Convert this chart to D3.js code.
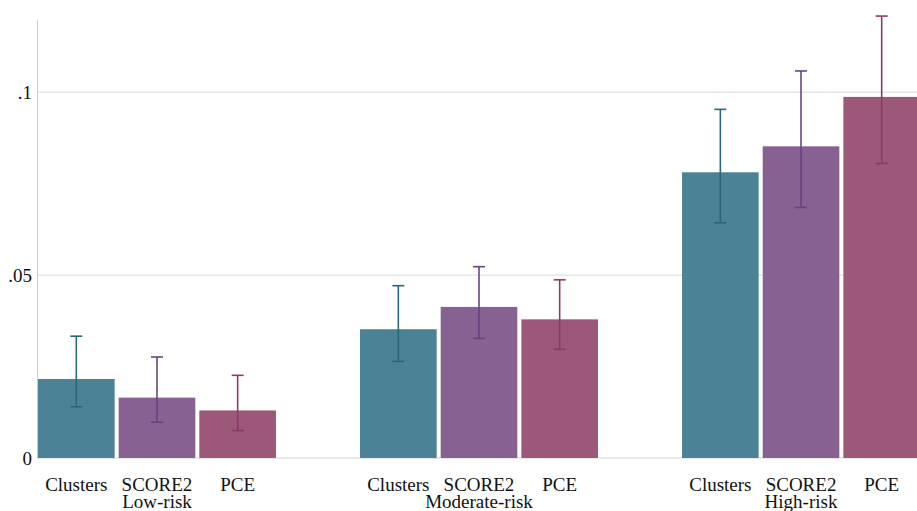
<!DOCTYPE html>
<html>
<head>
<meta charset="utf-8">
<script src="https://cdn.jsdelivr.net/npm/d3@7"></script>
<style>
  html, body { margin: 0; padding: 0; background: #ffffff; }
  svg { display: block; }
  .lbl { font-family: 'Liberation Serif', 'Times New Roman', serif; fill: #111; }
</style>
</head>
<body>
<svg id="chart" width="917" height="511"></svg>
<script>
// Risk groups and the three scores compared inside each group
const groups = ["Low-risk", "Moderate-risk", "High-risk"];
const scores = ["Clusters", "SCORE2", "PCE"];

// Mean value per score, one array per risk group
const lowRisk      = [0.0216, 0.0165, 0.0130];
const moderateRisk = [0.0352, 0.0413, 0.0379];
const highRisk     = [0.0781, 0.0852, 0.0987];

// 95% interval bounds per score, one array per risk group
const lowRiskLower      = [0.0140, 0.0098, 0.0075];
const lowRiskUpper      = [0.0333, 0.0276, 0.0226];
const moderateRiskLower = [0.0264, 0.0327, 0.0297];
const moderateRiskUpper = [0.0471, 0.0523, 0.0487];
const highRiskLower     = [0.0643, 0.0685, 0.0805];
const highRiskUpper     = [0.0953, 0.1058, 0.1208];

// Y axis ticks and their labels
const yTicks = [0, 0.05, 0.1];
const yTickLabels = ["0", ".05", ".1"];

const values = [lowRisk, moderateRisk, highRisk];
const lowers = [lowRiskLower, moderateRiskLower, highRiskLower];
const uppers = [lowRiskUpper, moderateRiskUpper, highRiskUpper];

const rows = [];
groups.forEach((g, gi) => {
  scores.forEach((s, si) => {
    rows.push({ group: g, score: s, value: values[gi][si], lo: lowers[gi][si], hi: uppers[gi][si] });
  });
});

const fillColor = d3.scaleOrdinal().domain(scores).range(["#4b8296", "#866191", "#9c5878"]);
const barColor  = d3.scaleOrdinal().domain(scores).range(["#2c6779", "#664481", "#8a3a6b"]);

const svg = d3.select("#chart");
const left = 37, baseline = 458;

const y = d3.scaleLinear().domain([0, 0.12]).range([baseline, 19]);

const x0 = d3.scaleBand().domain(groups).range([38, 920]).paddingInner(0.261).paddingOuter(0);
const x1 = d3.scaleBand().domain(scores).range([0, x0.bandwidth()]).paddingInner(0.05).paddingOuter(0);

// Horizontal grid lines
svg.append("g")
  .selectAll("line")
  .data(yTicks.filter(t => t > 0))
  .join("line")
  .attr("x1", left).attr("x2", 917)
  .attr("y1", d => y(d)).attr("y2", d => y(d))
  .attr("stroke", "#dadada").attr("stroke-width", 1);

// Baseline
svg.append("line")
  .attr("x1", left).attr("x2", 917)
  .attr("y1", y(0)).attr("y2", y(0))
  .attr("stroke", "#d4d4d4").attr("stroke-width", 1);

// Y axis
const yAxis = d3.axisLeft(y)
  .tickValues(yTicks)
  .tickFormat((d, i) => yTickLabels[i])
  .tickSize(0)
  .tickPadding(5);

const yg = svg.append("g").attr("transform", `translate(${left},0)`).call(yAxis);
yg.select(".domain").attr("stroke", "#cccccc").attr("stroke-width", 1);
yg.selectAll("text")
  .attr("class", "lbl")
  .attr("font-size", 19);

// Bars
const gGroups = svg.append("g")
  .selectAll("g")
  .data(groups)
  .join("g")
  .attr("transform", d => `translate(${x0(d)},0)`);

gGroups.selectAll("rect")
  .data(g => rows.filter(r => r.group === g))
  .join("rect")
  .attr("x", d => x1(d.score))
  .attr("width", x1.bandwidth())
  .attr("y", d => y(d.value))
  .attr("height", d => y(0) - y(d.value))
  .attr("fill", d => fillColor(d.score));

// Error bars with caps
const cap = 6;
const eb = gGroups.selectAll("g.err")
  .data(g => rows.filter(r => r.group === g))
  .join("g")
  .attr("class", "err")
  .attr("stroke", d => barColor(d.score))
  .attr("stroke-width", 1.6);

eb.append("line")
  .attr("x1", d => x1(d.score) + x1.bandwidth() / 2)
  .attr("x2", d => x1(d.score) + x1.bandwidth() / 2)
  .attr("y1", d => y(d.lo)).attr("y2", d => y(d.hi));
eb.append("line")
  .attr("x1", d => x1(d.score) + x1.bandwidth() / 2 - cap)
  .attr("x2", d => x1(d.score) + x1.bandwidth() / 2 + cap)
  .attr("y1", d => y(d.hi)).attr("y2", d => y(d.hi));
eb.append("line")
  .attr("x1", d => x1(d.score) + x1.bandwidth() / 2 - cap)
  .attr("x2", d => x1(d.score) + x1.bandwidth() / 2 + cap)
  .attr("y1", d => y(d.lo)).attr("y2", d => y(d.lo));

// Score labels under each bar
gGroups.selectAll("text.score")
  .data(g => scores)
  .join("text")
  .attr("class", "score lbl")
  .attr("x", s => x1(s) + x1.bandwidth() / 2)
  .attr("y", 491)
  .attr("text-anchor", "middle")
  .attr("font-size", 19)
  .text(s => s);

// Risk group label under the middle bar
gGroups.append("text")
  .attr("class", "group lbl")
  .attr("x", x0.bandwidth() / 2)
  .attr("y", 508)
  .attr("text-anchor", "middle")
  .attr("font-size", 19)
  .text(g => g);
</script>
</body>
</html>
